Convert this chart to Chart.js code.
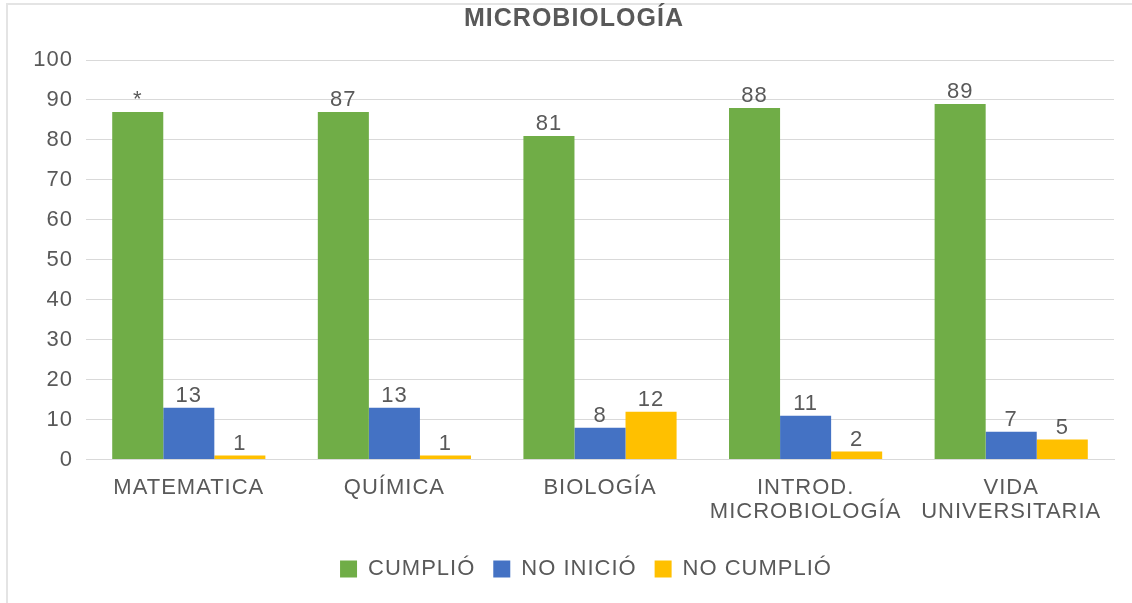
<!DOCTYPE html>
<html>
<head>
<meta charset="utf-8">
<script src="https://cdn.jsdelivr.net/npm/chart.js@4"></script>
<style>
    html, body { margin: 0; padding: 0; background: #fff; }
    #frame {
        position: absolute; left: 6px; top: 3px; width: 1140px; height: 610px;
        border-left: 2px solid #e4e4e4; border-top: 2px solid #e4e4e4;
    }
    #wrap { position: absolute; left: 0; top: 0; width: 1132px; height: 603px; }
</style>
</head>
<body>
<div id="frame"></div>
<div id="wrap"><canvas id="chart" width="1132" height="603"></canvas></div>
<script>
const categories = ['MATEMATICA', 'QUÍMICA', 'BIOLOGÍA', ['INTROD.', 'MICROBIOLOGÍA'], ['VIDA', 'UNIVERSITARIA']];
const cumplio = [87, 87, 81, 88, 89];
const noInicio = [13, 13, 8, 11, 7];
const noCumplio = [1, 1, 12, 2, 5];
// label text shown above each bar (first one is an asterisk in the original)
const cumplioLabels = ['*', '87', '81', '88', '89'];
const noInicioLabels = ['13', '13', '8', '11', '7'];
const noCumplioLabels = ['1', '1', '12', '2', '5'];
const yTicks = [0, 10, 20, 30, 40, 50, 60, 70, 80, 90, 100];

const textColor = '#595959';
const fontFamily = '"Liberation Sans", Arial, sans-serif';
const fontSize = 22;

// the original text is a bit wider than Liberation Sans, so space the letters out
function spaceLetters(chart) {
    chart.ctx.letterSpacing = '1px';
}

const barLabels = {
    id: 'barLabels',
    beforeUpdate: spaceLetters,
    beforeLayout: spaceLetters,
    beforeDraw: spaceLetters,
    afterLayout(chart) {
        // title and legend sit a little right of the canvas centre in the original
        chart.titleBlock.left += 17;
        chart.titleBlock.right += 17;
        chart.legend.left += 29;
        chart.legend.right += 29;
    },
    afterDatasetsDraw(chart) {
        const ctx = chart.ctx;
        const all = [cumplioLabels, noInicioLabels, noCumplioLabels];
        ctx.save();
        ctx.font = fontSize + 'px ' + fontFamily;
        ctx.fillStyle = textColor;
        ctx.textAlign = 'center';
        ctx.textBaseline = 'bottom';
        chart.data.datasets.forEach((ds, i) => {
            const meta = chart.getDatasetMeta(i);
            meta.data.forEach((bar, j) => {
                ctx.fillText(all[i][j], bar.x, bar.y - 1);
            });
        });
        ctx.restore();
    }
};

const ctx = document.getElementById('chart').getContext('2d');

new Chart(ctx, {
    type: 'bar',
    data: {
        labels: categories,
        datasets: [
            { label: 'CUMPLIÓ', data: cumplio, backgroundColor: '#70AD47' },
            { label: 'NO INICIÓ', data: noInicio, backgroundColor: '#4472C4' },
            { label: 'NO CUMPLIÓ', data: noCumplio, backgroundColor: '#FFC000' }
        ]
    },
    options: {
        responsive: false,
        animation: false,
        layout: { padding: { left: 0, right: 18, top: 0, bottom: 13 } },
        datasets: {
            bar: { categoryPercentage: 0.745, barPercentage: 1.0 }
        },
        scales: {
            x: {
                grid: { display: false, drawTicks: false },
                border: { display: true, color: '#d9d9d9', width: 1 },
                ticks: {
                    color: textColor,
                    font: { family: fontFamily, size: fontSize, lineHeight: 1.1 },
                    padding: 16,
                    maxRotation: 0,
                    autoSkip: false
                }
            },
            y: {
                min: 0,
                max: 100,
                afterBuildTicks(scale) {
                    scale.ticks = yTicks.map(v => ({ value: v }));
                },
                afterFit(scale) { scale.width = 86; },
                grid: { color: '#d9d9d9', drawTicks: false },
                border: { display: false },
                ticks: {
                    color: textColor,
                    font: { family: fontFamily, size: fontSize },
                    padding: 13
                }
            }
        },
        plugins: {
            title: {
                display: true,
                text: 'MICROBIOLOGÍA',
                color: textColor,
                font: { family: fontFamily, size: 25, weight: 'bold' },
                padding: { top: 4, bottom: 26 }
            },
            legend: {
                position: 'bottom',
                labels: {
                    color: textColor,
                    font: { family: fontFamily, size: fontSize },
                    boxWidth: 17,
                    boxHeight: 17,
                    padding: 18
                }
            },
            tooltip: { enabled: false }
        }
    },
    plugins: [barLabels]
});
</script>
</body>
</html>
